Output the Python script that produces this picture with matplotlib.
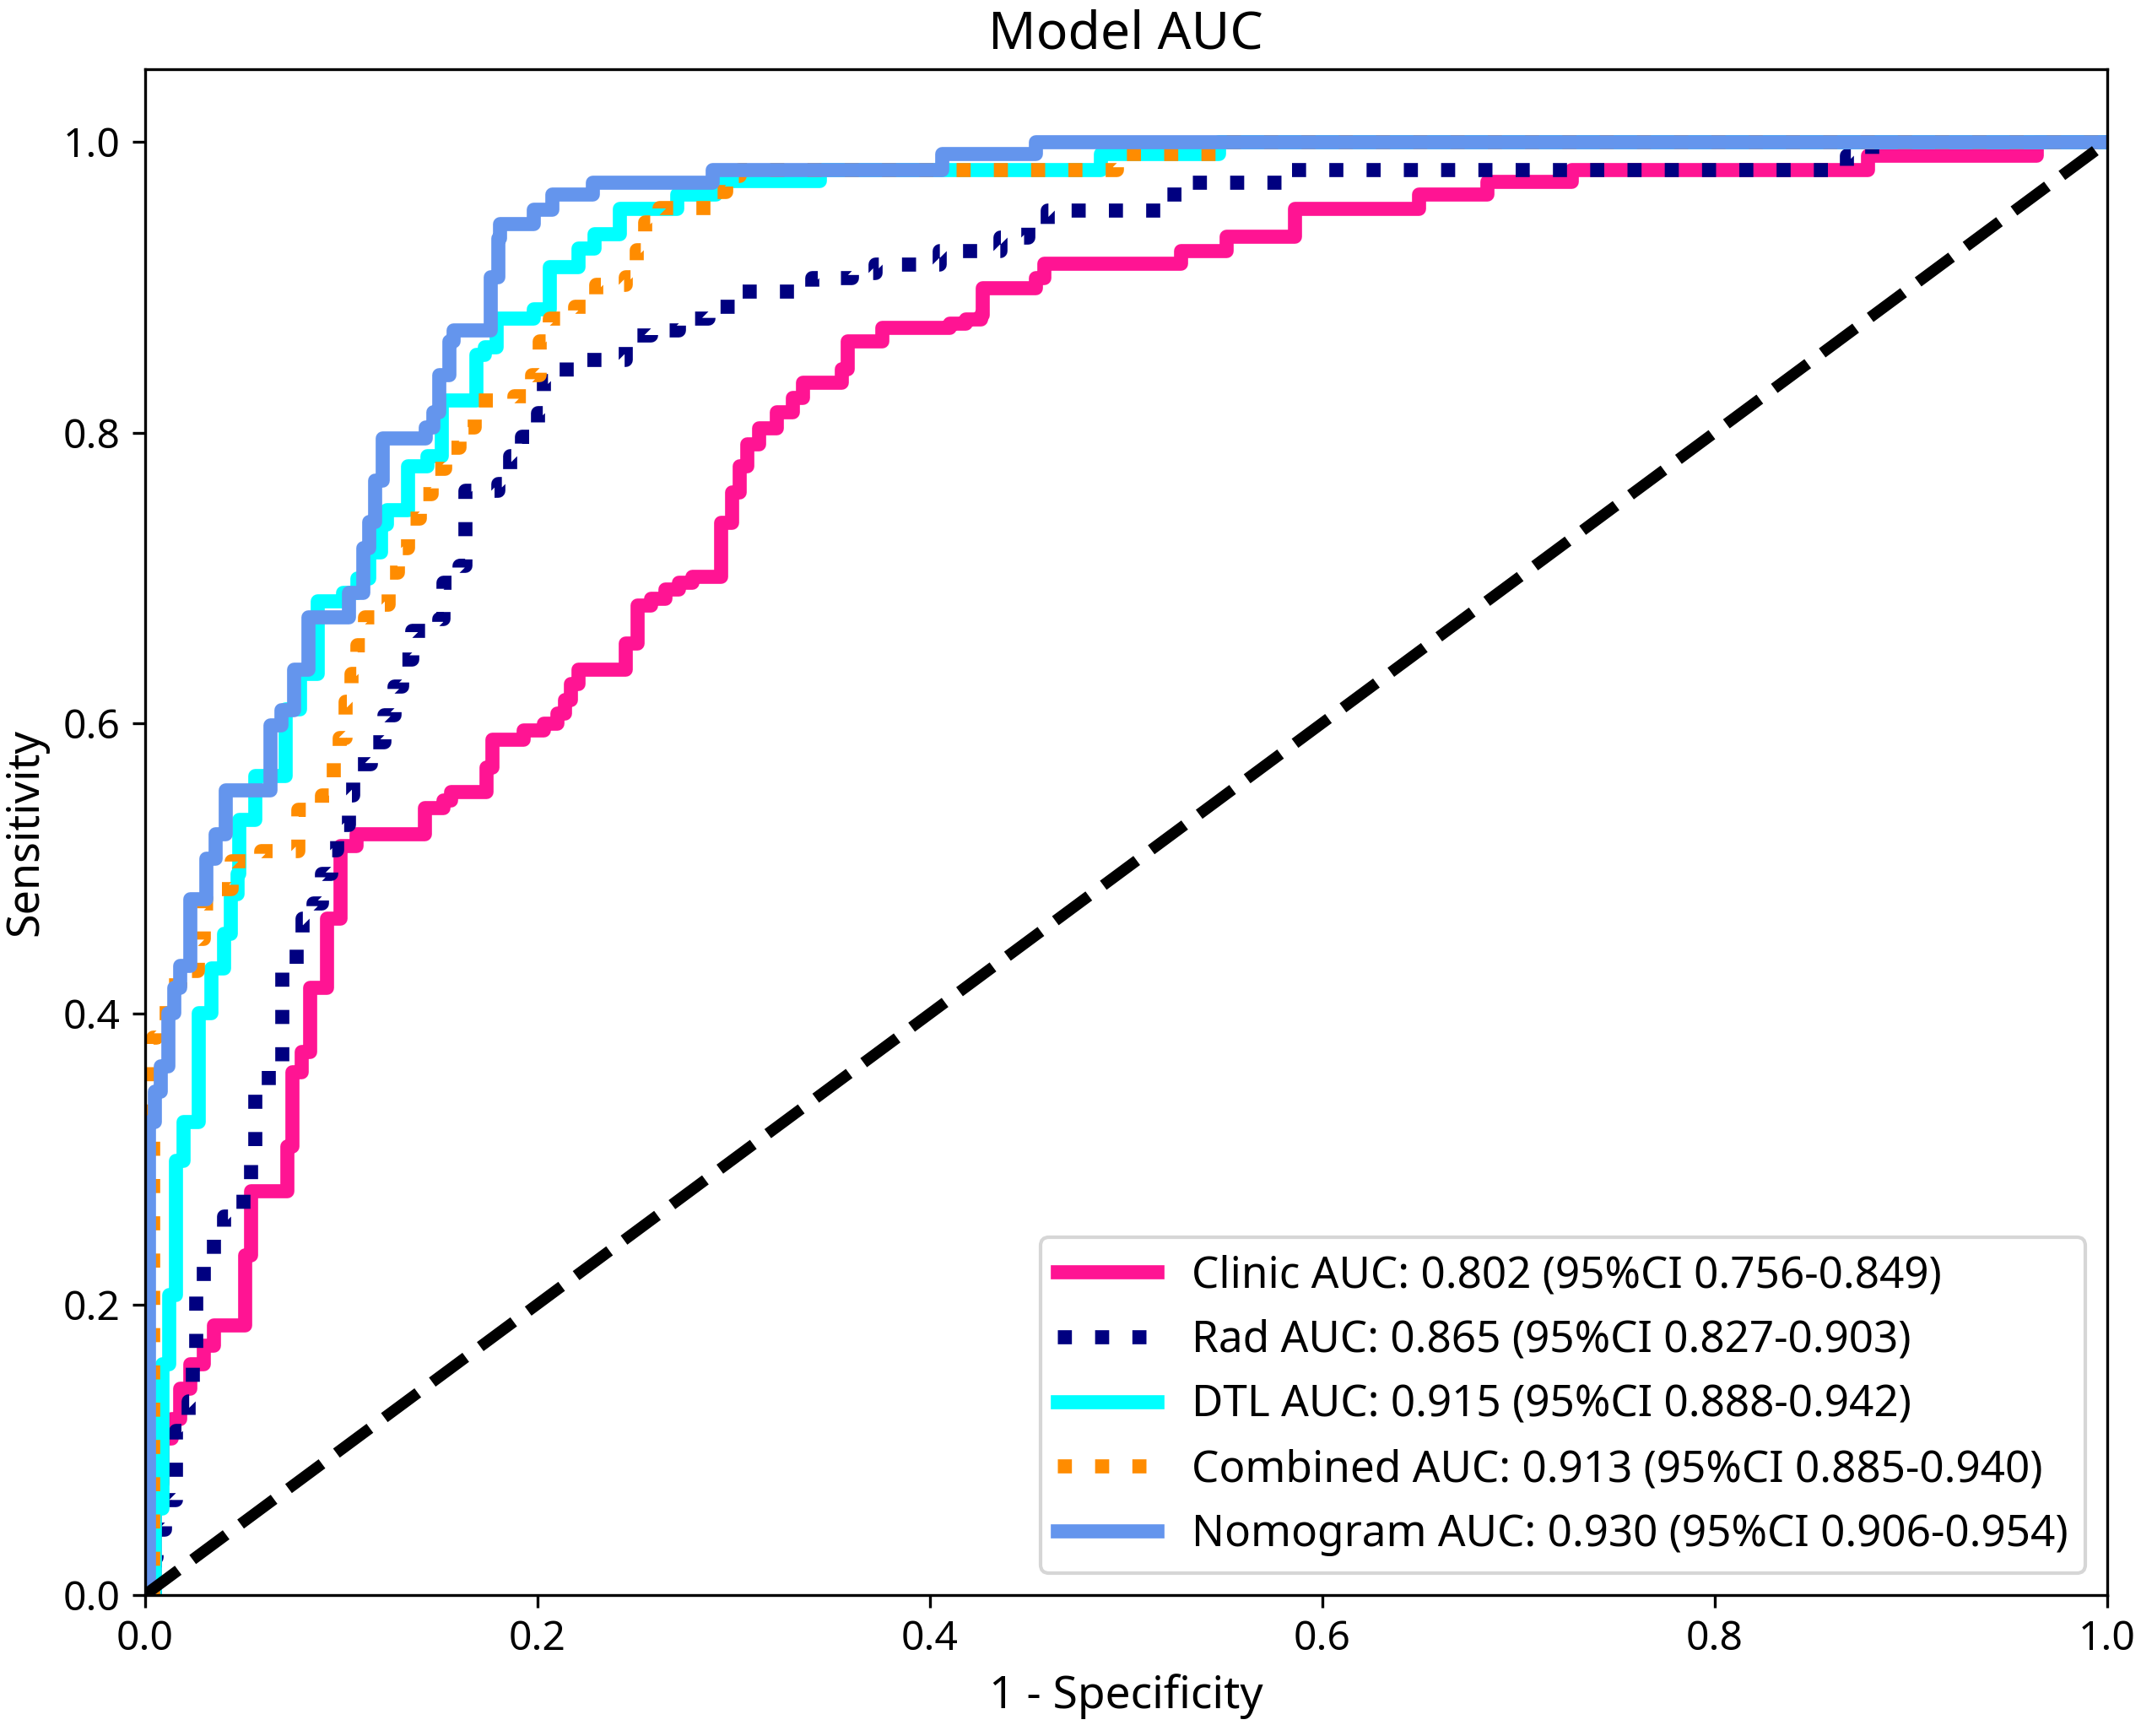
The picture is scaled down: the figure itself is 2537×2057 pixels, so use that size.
import matplotlib
matplotlib.use("Agg")
import matplotlib.pyplot as plt

plt.rcParams['font.family'] = ['Noto Sans', 'DejaVu Sans']

# ROC step points (left end of each horizontal run); drawn with steps-post
clinic_fpr = [0.0, 0.005, 0.0087, 0.0136, 0.018, 0.023, 0.030, 0.035, 0.051, 0.054, 0.0725, 0.075,
              0.0796, 0.084, 0.0925, 0.0996, 0.1077, 0.1424, 0.152, 0.156, 0.174, 0.177, 0.193,
              0.203, 0.210, 0.214, 0.217, 0.221, 0.245, 0.251, 0.258, 0.265, 0.272, 0.279, 0.2935,
              0.299, 0.303, 0.307, 0.313, 0.322, 0.330, 0.335, 0.355, 0.358, 0.3756, 0.41, 0.418,
              0.426, 0.427, 0.454, 0.458, 0.528, 0.551, 0.586, 0.649, 0.684, 0.727, 0.878, 0.964, 1.0]
clinic_tpr = [0.0, 0.077, 0.108, 0.1216, 0.142, 0.159, 0.172, 0.186, 0.234, 0.278, 0.309, 0.36,
              0.374, 0.418, 0.4657, 0.516, 0.524, 0.542, 0.547, 0.553, 0.570, 0.589, 0.595,
              0.600, 0.607, 0.616, 0.627, 0.637, 0.655, 0.681, 0.686, 0.692, 0.697, 0.701, 0.738,
              0.759, 0.777, 0.792, 0.803, 0.814, 0.824, 0.8345, 0.8438, 0.863, 0.8722, 0.875, 0.878,
              0.881, 0.8995, 0.9067, 0.9166, 0.925, 0.935, 0.954, 0.964, 0.9727, 0.981, 0.991, 1.0, 1.0]

rad_fpr = [0.0, 0.005, 0.006, 0.010, 0.0156, 0.0156, 0.022, 0.0245, 0.026, 0.026, 0.030, 0.035,
           0.040, 0.050, 0.054, 0.056, 0.056, 0.063, 0.070, 0.070, 0.070, 0.077, 0.080, 0.086,
           0.090, 0.095, 0.098, 0.104, 0.106, 0.115, 0.122, 0.127, 0.131, 0.136, 0.150, 0.152,
           0.160, 0.163, 0.163, 0.180, 0.186, 0.192, 0.200, 0.203, 0.215, 0.245, 0.258, 0.272,
           0.287, 0.302, 0.340, 0.360, 0.372, 0.405, 0.436, 0.450, 0.460, 0.518, 0.530, 0.5825,
           0.867, 0.88, 1.0]
rad_tpr = [0.0, 0.026, 0.045, 0.0655, 0.087, 0.113, 0.1335, 0.161, 0.181, 0.2067, 0.227, 0.249,
           0.261, 0.280, 0.299, 0.323, 0.345, 0.365, 0.382, 0.408, 0.433, 0.449, 0.4657, 0.476,
           0.4965, 0.513, 0.530, 0.5505, 0.572, 0.587, 0.606, 0.6255, 0.644, 0.6637, 0.672, 0.697,
           0.7088, 0.734, 0.760, 0.765, 0.784, 0.7973, 0.8138, 0.8357, 0.8505, 0.867, 0.8705, 0.8788,
           0.887, 0.8975, 0.9067, 0.91, 0.916, 0.9253, 0.9345, 0.9438, 0.953, 0.9642, 0.9723, 0.981,
           0.991, 1.0, 1.0]

dtl_fpr = [0.0, 0.005, 0.0087, 0.0123, 0.0157, 0.0194, 0.0273, 0.0337, 0.040, 0.0437, 0.047,
           0.048, 0.056, 0.0714, 0.079, 0.088, 0.101, 0.108, 0.114, 0.120, 0.123, 0.134, 0.144,
           0.151, 0.169, 0.173, 0.179, 0.198, 0.206, 0.221, 0.229, 0.242, 0.271, 0.291, 0.344,
           0.487, 0.547, 1.0]
dtl_tpr = [0.0, 0.06, 0.159, 0.2067, 0.2988, 0.326, 0.401, 0.4316, 0.4555, 0.4828, 0.4965,
           0.5337, 0.5638, 0.610, 0.634, 0.684, 0.690, 0.700, 0.718, 0.737, 0.747, 0.777, 0.784,
           0.8223, 0.854, 0.859, 0.8786, 0.885, 0.914, 0.927, 0.937, 0.954, 0.964, 0.9734, 0.981,
           0.992, 1.0, 1.0]

comb_fpr = [0.0, 0.004, 0.004, 0.006, 0.012, 0.018, 0.027, 0.030, 0.039, 0.044, 0.059, 0.078,
            0.090, 0.096, 0.099, 0.102, 0.105, 0.108, 0.112, 0.119, 0.124, 0.129, 0.134, 0.140,
            0.146, 0.153, 0.160, 0.168, 0.188, 0.197, 0.201, 0.206, 0.219, 0.230, 0.245, 0.2505,
            0.255, 0.262, 0.290, 0.296, 0.303, 0.495, 0.550, 1.0]
comb_tpr = [0.0, 0.336, 0.384, 0.401, 0.42, 0.43, 0.452, 0.476, 0.486, 0.505, 0.512, 0.5406,
            0.5505, 0.577, 0.590, 0.615, 0.634, 0.654, 0.673, 0.682, 0.704, 0.7207, 0.741, 0.758,
            0.7753, 0.79, 0.8037, 0.8223, 0.8252, 0.840, 0.863, 0.8786, 0.887, 0.902, 0.907, 0.9256,
            0.945, 0.955, 0.966, 0.977, 0.981, 0.992, 1.0, 1.0]

nomo_fpr = [0.0, 0.002, 0.005, 0.008, 0.012, 0.015, 0.018, 0.023, 0.031, 0.036, 0.041, 0.064,
            0.0695, 0.076, 0.083, 0.104, 0.111, 0.114, 0.117, 0.121, 0.143, 0.147, 0.150, 0.155,
            0.157, 0.176, 0.180, 0.181, 0.198, 0.2075, 0.228, 0.289, 0.406, 0.454, 1.0]
nomo_tpr = [0.0, 0.326, 0.347, 0.364, 0.401, 0.418, 0.433, 0.479, 0.507, 0.524, 0.554, 0.599,
            0.609, 0.637, 0.673, 0.690, 0.721, 0.739, 0.767, 0.796, 0.804, 0.814, 0.840, 0.863,
            0.8705, 0.907, 0.934, 0.944, 0.9535, 0.964, 0.972, 0.981, 0.992, 1.0, 1.0]

labels = ["Clinic AUC: 0.802 (95%CI 0.756-0.849)",
          "Rad AUC: 0.865 (95%CI 0.827-0.903)",
          "DTL AUC: 0.915 (95%CI 0.888-0.942)",
          "Combined AUC: 0.913 (95%CI 0.885-0.940)",
          "Nomogram AUC: 0.930 (95%CI 0.906-0.954)"]

fig = plt.figure(figsize=(2537 / 300, 2057 / 300), dpi=300)
ax = fig.add_axes([0.0676, 0.0812, 0.9166, 0.8789])

lw = 4
ax.plot(clinic_fpr, clinic_tpr, drawstyle='steps-post', color='deeppink', lw=lw, ls='-', label=labels[0])
ax.plot(rad_fpr, rad_tpr, drawstyle='steps-post', color='navy', lw=lw, ls=':', label=labels[1])
ax.plot(dtl_fpr, dtl_tpr, drawstyle='steps-post', color='aqua', lw=lw, ls='-', label=labels[2])
ax.plot(comb_fpr, comb_tpr, drawstyle='steps-post', color='darkorange', lw=lw, ls=':', label=labels[3])
ax.plot(nomo_fpr, nomo_tpr, drawstyle='steps-post', color='cornflowerblue', lw=lw, ls='-', label=labels[4])
ax.plot([0, 1], [0, 1], color='black', lw=3.2, ls='--')

ax.set_xlim(0, 1)
ax.set_ylim(0, 1.05)
ax.set_xticks([0.0, 0.2, 0.4, 0.6, 0.8, 1.0])
ax.set_yticks([0.0, 0.2, 0.4, 0.6, 0.8, 1.0])
ax.tick_params(labelsize=11.5)
ax.set_xlabel('1 - Specificity', fontsize=12.8)
ax.set_ylabel('Sensitivity', fontsize=12.5)
ax.set_title('Model AUC', fontsize=15)
ax.legend(loc='lower right', fontsize=12.3, handlelength=2.3)

fig.savefig('out.png', dpi=300)
